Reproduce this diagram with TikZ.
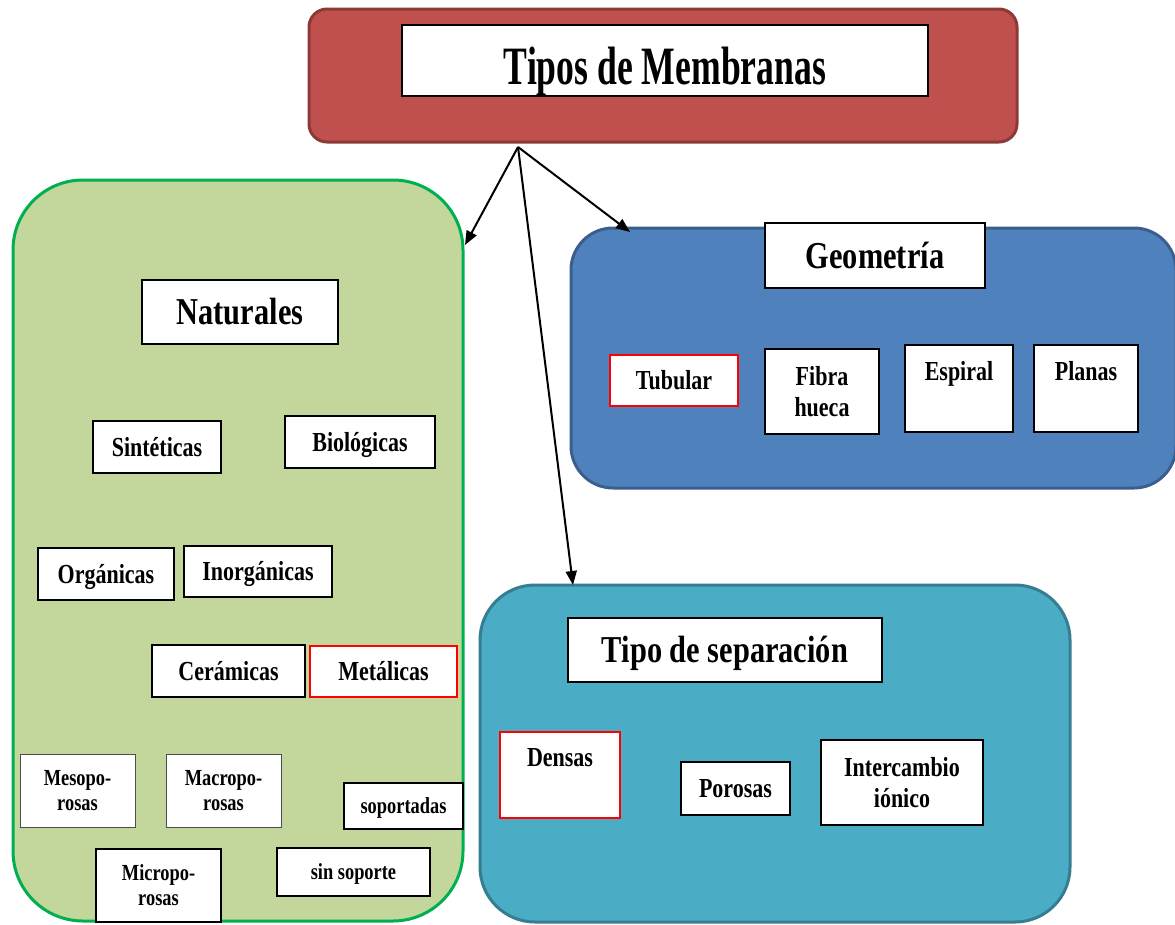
\documentclass[tikz,border=0pt]{standalone}
\usepackage{fontspec}
\setmainfont{Liberation Serif}[FakeStretch=0.8]
\newfontfamily\titlefont{Liberation Serif}[FakeStretch=0.66]
\usetikzlibrary{arrows.meta}
\definecolor{redfill}{HTML}{C0504D}
\definecolor{redline}{HTML}{8C3A37}
\definecolor{greenfill}{HTML}{C3D69B}
\definecolor{greenline}{HTML}{00B050}
\definecolor{bluefill}{HTML}{4F81BD}
\definecolor{blueline}{HTML}{3A5F8E}
\definecolor{tealfill}{HTML}{4BACC6}
\definecolor{tealline}{HTML}{357D91}
\definecolor{hotred}{HTML}{FF0000}
\begin{document}
\begin{tikzpicture}[x=1pt,y=-1pt,
  container/.style={rectangle, line width=3pt, inner sep=0pt},
  wbox/.style={rectangle, draw=black, line width=1.8pt, fill=white, inner sep=0pt, align=center, font=\bfseries},
  redbox/.style={wbox, draw=hotred},
  fbig/.style={font=\bfseries\fontsize{38}{41}\selectfont, text height=25.8pt, text depth=0pt},
  fmid/.style={font=\bfseries\fontsize{27.5}{31.5}\selectfont, text height=18.7pt, text depth=0pt},
  fmidtwo/.style={font=\bfseries\fontsize{27.5}{31.5}\selectfont},
  fsmall/.style={font=\bfseries\fontsize{23}{25}\selectfont, text height=15.6pt, text depth=0pt},
  fsmalltwo/.style={font=\bfseries\fontsize{23}{25}\selectfont},
  toplabel/.style={inner sep=0pt, anchor=north, text height=18.2pt, text depth=0pt, font=\bfseries\fontsize{27.5}{31}\selectfont},
  conn/.style={line width=2pt, -{Triangle[length=14pt,width=11pt]}}
]
\useasboundingbox (0,0) rectangle (1175,924);

% containers
\node[container, draw=redline, fill=redfill, rounded corners=18pt, minimum width=708pt, minimum height=133pt] (top) at (663,75.5) {};
\node[container, draw=greenline, fill=greenfill, rounded corners=70pt, minimum width=450pt, minimum height=741pt] (nat) at (238,550.5) {};
\node[container, draw=blueline, fill=bluefill, rounded corners=42pt, minimum width=605pt, minimum height=260pt] (geo) at (873.5,358) {};
\node[container, draw=tealline, fill=tealfill, rounded corners=55pt, minimum width=590pt, minimum height=337pt] (sep) at (775,753.5) {};

% title
\node[wbox, minimum width=526pt, minimum height=71pt, font=\titlefont\bfseries\fontsize{54}{56}\selectfont, text height=47pt, text depth=0pt] (title) at (665,60.5) {Tipos de Membranas};

% Naturales group
\node[wbox, fbig, minimum width=196pt, minimum height=64pt] (naturales) at (240,312) {Naturales};
\node[wbox, fmid, minimum width=128pt, minimum height=52pt] (sinteticas) at (157,447) {Sintéticas};
\node[wbox, fmid, minimum width=150pt, minimum height=52pt] (biologicas) at (360,442) {Biológicas};
\node[wbox, fmid, minimum width=136pt, minimum height=52pt] (organicas) at (106,574) {Orgánicas};
\node[wbox, fmid, minimum width=148pt, minimum height=51pt] (inorganicas) at (258,571.5) {Inorgánicas};
\node[wbox, fmid, minimum width=153pt, minimum height=52pt] (ceramicas) at (228.5,671) {Cerámicas};
\node[redbox, fmid, minimum width=147pt, minimum height=51pt] (metalicas) at (383.5,671.5) {Metálicas};
\node[wbox, fsmalltwo, line width=1pt, draw=black!70, minimum width=115pt, minimum height=73pt] (meso) at (77.5,790.5) {Mesopo-\\rosas};
\node[wbox, fsmalltwo, line width=1pt, draw=black!70, minimum width=115pt, minimum height=73pt] (macro) at (223.5,790.5) {Macropo-\\rosas};
\node[wbox, fsmall, minimum width=119pt, minimum height=46pt] (soportadas) at (403.5,806) {soportadas};
\node[wbox, fsmalltwo, minimum width=125pt, minimum height=73pt] (micro) at (158.5,885.5) {Micropo-\\rosas};
\node[wbox, fsmall, minimum width=153pt, minimum height=48pt] (sinsoporte) at (353.5,872) {sin soporte};

% Geometria group
\node[wbox, fbig, minimum width=220pt, minimum height=65pt] (geometria) at (875,255.5) {Geometría};
\node[redbox, fmid, minimum width=128pt, minimum height=51pt] (tubular) at (674,380.5) {Tubular};
\node[wbox, fmidtwo, minimum width=114pt, minimum height=85pt] (fibra) at (822,391.5) {Fibra\\hueca};
\node[wbox, minimum width=108pt, minimum height=87pt, label={[toplabel, yshift=-18pt]north:Espiral}] (espiral) at (959,388.5) {};
\node[wbox, minimum width=104pt, minimum height=87pt, label={[toplabel, yshift=-18pt]north:Planas}] (planas) at (1086,388.5) {};

% Tipo de separacion group
\node[wbox, fbig, minimum width=314pt, minimum height=64pt] (tiposep) at (725,650) {Tipo de separación};
\node[redbox, minimum width=120pt, minimum height=86pt, label={[toplabel, yshift=-17pt]north:Densas}] (densas) at (560,775) {};
\node[wbox, fmid, minimum width=109pt, minimum height=53pt] (porosas) at (735.5,788.5) {Porosas};
\node[wbox, fmidtwo, minimum width=162pt, minimum height=85pt] (intercambio) at (902,782.5) {Intercambio\\iónico};

% connectors
\coordinate (src) at (518,147);
\coordinate (tnat) at (465,245);
\coordinate (tgeo) at (630,232);
\coordinate (tsep) at (573,585);
\draw[conn] (src) -- (tnat);
\draw[conn] (src) -- (tgeo);
\draw[conn] (src) -- (tsep);
\end{tikzpicture}
\end{document}
